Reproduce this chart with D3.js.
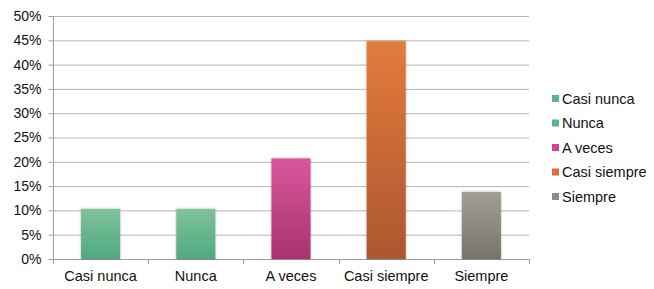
<!DOCTYPE html>
<html>
<head>
<meta charset="utf-8">
<script src="https://cdn.jsdelivr.net/npm/d3@7"></script>
<style>
  html,body{margin:0;padding:0;background:#fff;}
  svg{display:block;font-family:"Liberation Sans",Arial,Helvetica,sans-serif;}
</style>
</head>
<body>
<div id="chart"></div>
<script>
// categories and shares (fraction of respondents)
var categories=["Casi nunca","Nunca","A veces","Casi siempre","Siempre"];
var values=[0.103,0.103,0.207,0.448,0.138];
var yTicks=[0,0.05,0.1,0.15,0.2,0.25,0.3,0.35,0.4,0.45,0.5];
// top / bottom gradient colours per category
var topColors=["#7fc29c","#7fc29c","#d8579b","#e27b3c","#a39f96"];
var bottomColors=["#4fa97f","#4fa97f","#a9336f","#ad5630","#76736a"];
var legendColors=["#5bb487","#5bb487","#d0468c","#d86f37","#8e8a81"];

var W=654,H=289;
var m={top:16,right:125,bottom:30,left:53};
var width=W-m.left-m.right, height=H-m.top-m.bottom;

var svg=d3.select("#chart").append("svg").attr("width",W).attr("height",H);
var defs=svg.append("defs");
categories.forEach(function(c,i){
  var gr=defs.append("linearGradient").attr("id","grad"+i).attr("x1",0).attr("y1",0).attr("x2",0).attr("y2",1);
  gr.append("stop").attr("offset","0%").attr("stop-color",topColors[i]);
  gr.append("stop").attr("offset","100%").attr("stop-color",bottomColors[i]);
});
var f=defs.append("filter").attr("id","shadow").attr("x","-20%").attr("y","-5%").attr("width","140%").attr("height","110%");
f.append("feDropShadow").attr("dx",0).attr("dy",0).attr("stdDeviation",1).attr("flood-color","#000").attr("flood-opacity",0.35);

var g=svg.append("g").attr("transform","translate("+m.left+","+m.top+")");

var x=d3.scaleBand().domain(categories).range([0,width]).paddingInner(0.59).paddingOuter(0.295);
var y=d3.scaleLinear().domain([0,0.5]).range([height,0]);

// gridlines
g.append("g").selectAll("line").data(yTicks.slice(1)).enter().append("line")
  .attr("x1",0).attr("x2",width).attr("y1",function(d){return y(d)+0.5;}).attr("y2",function(d){return y(d)+0.5;})
  .attr("stroke","#b9b6b0").attr("stroke-width",1);

// y axis
var yAxis=g.append("g").attr("transform","translate(0.5,0)")
  .call(d3.axisLeft(y).tickValues(yTicks).tickSize(5).tickPadding(7).tickFormat(d3.format(".0%")));
yAxis.select(".domain").attr("stroke","#a09d97").attr("d","M0,0V"+(height+0.5));
yAxis.selectAll(".tick line").attr("stroke","#a09d97");
yAxis.selectAll("text").attr("fill","#111").style("font-size","14px").style("font-family","Liberation Sans, Arial, sans-serif");

// x axis with ticks at category boundaries
var step=width/categories.length;
var xg=g.append("g").attr("transform","translate(0,"+height+")");
xg.append("line").attr("x1",0).attr("x2",width).attr("y1",0.5).attr("y2",0.5).attr("stroke","#a09d97");
xg.selectAll("line.t").data(d3.range(categories.length+1)).enter().append("line").attr("class","t")
  .attr("x1",function(i){return Math.round(i*step)+0.5;}).attr("x2",function(i){return Math.round(i*step)+0.5;})
  .attr("y1",0).attr("y2",5).attr("stroke","#a09d97");
xg.selectAll("text").data(categories).enter().append("text")
  .attr("x",function(d){return x(d)+x.bandwidth()/2;}).attr("y",22)
  .attr("text-anchor","middle").attr("fill","#111").style("font-size","14.5px").text(function(d){return d;});

// bars
g.append("g").selectAll("rect").data(values).enter().append("rect")
  .attr("x",function(d,i){return x(categories[i]);})
  .attr("y",function(d){return y(d);})
  .attr("width",x.bandwidth())
  .attr("height",function(d){return height-y(d);})
  .attr("fill",function(d,i){return "url(#grad"+i+")";})
  .attr("filter","url(#shadow)");

// legend
var lg=svg.append("g").attr("transform","translate(552,95)");
var items=lg.selectAll("g").data(categories).enter().append("g")
  .attr("transform",function(d,i){return "translate(0,"+(i*24.5)+")";});
items.append("rect").attr("width",7).attr("height",7).attr("fill",function(d,i){return legendColors[i];});
items.append("text").attr("x",10).attr("y",8.5).attr("fill","#111").style("font-size","14.5px").text(function(d){return d;});
</script>
</body>
</html>
